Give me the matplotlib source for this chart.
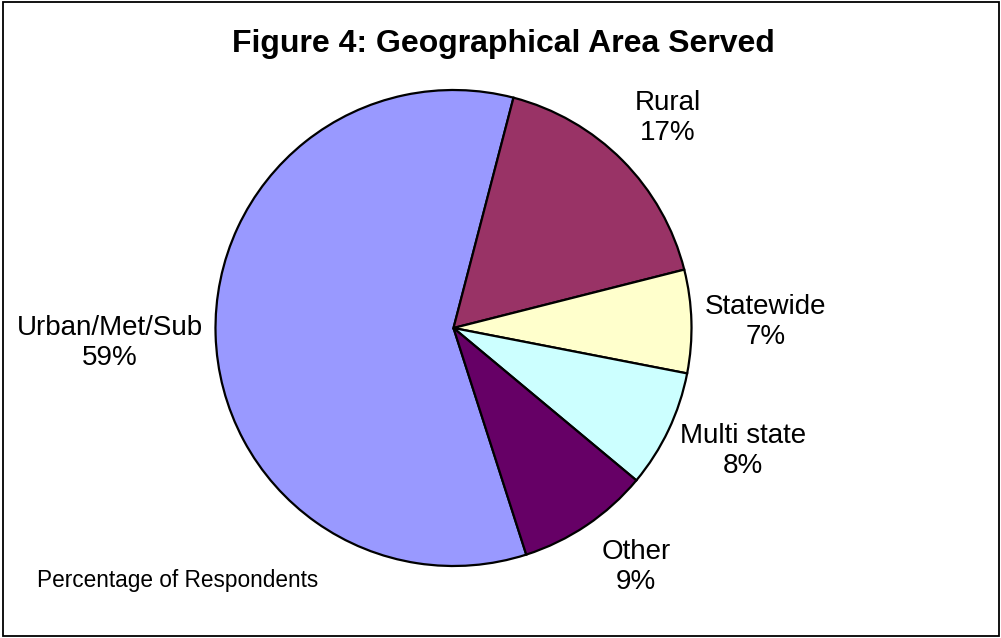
import matplotlib.pyplot as plt
from matplotlib.patches import Rectangle

plt.rcParams['font.family'] = ['Liberation Sans', 'DejaVu Sans']

categories = ["Urban/Met/Sub", "Rural", "Statewide", "Multi state", "Other"]
percents = [59, 17, 7, 8, 9]
colors = ["#9999FF", "#993366", "#FFFFCC", "#CCFFFF", "#660066"]

# label anchor points, in pie units (radius = 1)
label_pos = [(-1.443, -0.063), (0.902, 0.882), (1.313, 0.025),
             (1.216, -0.517), (0.767, -1.004)]

W, H = 1001, 638
fig = plt.figure(figsize=(W / 100, H / 100), dpi=100)

# pie centred at (453.5, 328) px, radius 238 px
cx, cy, r = 453.5, 328, 238
ax = fig.add_axes([(cx - r) / W, (H - cy - r) / H, 2 * r / W, 2 * r / H])
ax.pie(percents, colors=colors, startangle=-72.2, counterclock=False,
       radius=1, wedgeprops=dict(edgecolor='black', linewidth=1.6))
ax.set_xlim(-1, 1)
ax.set_ylim(-1, 1)
ax.set_aspect('equal')
ax.axis('off')

for name, pct, (lx, ly) in zip(categories, percents, label_pos):
    ax.text(lx, ly, f"{name}\n{pct}%", ha='center', va='center',
            fontsize=20, linespacing=1.22, clip_on=False)

fig.text(503 / W, 1 - 44 / H, "Figure 4: Geographical Area Served",
         ha='center', va='center', fontsize=23, fontweight='bold')
fig.text(177.5 / W, 1 - 580 / H, "Percentage of Respondents",
         ha='center', va='center', fontsize=16.3)

# outer frame
fig.patches.append(Rectangle((3 / W, 2 / H), (W - 5) / W, (H - 4) / H,
                             transform=fig.transFigure, fill=False,
                             edgecolor='black', linewidth=1.3))

fig.savefig("out.png", dpi=100)
